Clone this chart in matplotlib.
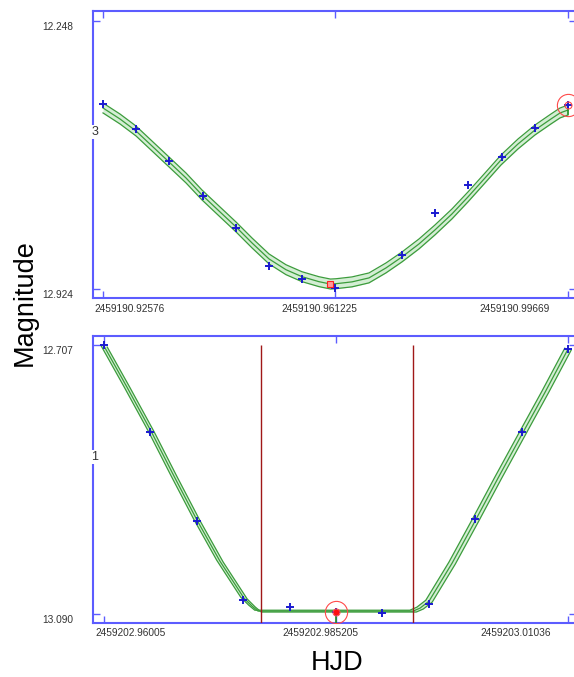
import numpy as np
import matplotlib
matplotlib.use("Agg")
import matplotlib.pyplot as plt
from matplotlib.transforms import ScaledTranslation

plt.rcParams['font.family'] = ['Liberation Sans', 'DejaVu Sans']

# ---------------- data: upper panel ----------------
top_hjd = [2459190.92576, 2459190.93083, 2459190.93589, 2459190.94096, 2459190.94603,
           2459190.95109, 2459190.95616, 2459190.96122, 2459190.97136, 2459190.97642,
           2459190.98149, 2459190.98656, 2459190.99162, 2459190.99669]
top_mag = [12.4583, 12.5212, 12.6018, 12.6899, 12.7700, 12.8662, 12.8989, 12.9216,
           12.8384, 12.7327, 12.6622, 12.5917, 12.5187, 12.4608]

top_model_hjd = [2459190.92576, 2459190.92835, 2459190.93079, 2459190.93323, 2459190.93583,
                 2459190.93842, 2459190.94086, 2459190.94345, 2459190.94605, 2459190.94849,
                 2459190.95108, 2459190.95367, 2459190.95611, 2459190.95871, 2459190.96046,
                 2459190.96130, 2459190.96374, 2459190.96633, 2459190.96893, 2459190.97137,
                 2459190.97396, 2459190.97640, 2459190.97899, 2459190.98143, 2459190.98403,
                 2459190.98647, 2459190.98906, 2459190.99165, 2459190.99409, 2459190.99547,
                 2459190.99669]
top_model_mag = [12.4683, 12.4960, 12.5262, 12.5640, 12.6043, 12.6446, 12.6874, 12.7277,
                 12.7680, 12.8083, 12.8485, 12.8757, 12.8933, 12.9059, 12.9118, 12.9110,
                 12.9064, 12.8964, 12.8712, 12.8435, 12.8108, 12.7755, 12.7352, 12.6924,
                 12.6446, 12.5993, 12.5590, 12.5238, 12.4960, 12.4809, 12.4734]
top_model_err = 0.0125
top_circled = 13

top_xticks = [2459190.92576, 2459190.961225, 2459190.99669]
top_xticklabels = ['2459190.92576', '2459190.961225', '2459190.99669']
top_yticks = [12.248, 12.924]
top_yticklabels = ['12.248', '12.924']
top_ylim = (12.947, 12.224)
top_xlim = (2459190.924235, 2459190.99791)
top_mid_label = '3'

# ---------------- data: lower panel ----------------
bot_hjd = [2459202.96005, 2459202.96508, 2459202.97011, 2459202.97514, 2459202.98017,
           2459202.98521, 2459202.99024, 2459202.99527, 2459203.00030, 2459203.00533,
           2459203.01036]
bot_mag = [12.7070, 12.8309, 12.9576, 13.0701, 13.0801, 13.0872, 13.0886, 13.0758,
           12.9548, 12.8309, 12.7127]

bot_model_hjd = [2459202.96005, 2459202.96254, 2459202.96515, 2459202.96764, 2459202.97013,
                 2459202.97262, 2459202.97523, 2459202.97610, 2459202.97675, 2459202.99356,
                 2459202.99432, 2459202.99529, 2459202.99779, 2459203.00028, 2459203.00277,
                 2459203.00538, 2459203.00788, 2459203.01036]
bot_model_mag = [12.7084, 12.7668, 12.8295, 12.8936, 12.9562, 13.0146, 13.0673, 13.0787,
                 13.0858, 13.0858, 13.0815, 13.0716, 13.0175, 12.9576, 12.8964, 12.8337,
                 12.7739, 12.7127]
bot_model_dx = 0.00035
bot_model_dy = 0.0013
bot_circled = 5
eclipse_bounds = [2459202.977073, 2459202.993553]

bot_xticks = [2459202.96005, 2459202.985205, 2459203.01036]
bot_xticklabels = ['2459202.96005', '2459202.985205', '2459203.01036']
bot_yticks = [12.707, 13.090]
bot_yticklabels = ['12.707', '13.090']
bot_ylim = (13.102, 12.694)
bot_xlim = (2459202.958857, 2459203.011227)
bot_mid_label = '1'

# ---------------- styling ----------------
SPINE = '#5c5cff'
PT_COL = '#1a1ad0'
GREEN = '#3c9c3c'
BAND = '#d4eed4'
RED = '#ff4a4a'
DARKRED = '#a01818'

fig = plt.figure(figsize=(5.74, 6.77), dpi=100)
W, H = 574.0, 677.0
ax1 = fig.add_axes([93 / W, 1 - 298 / H, (576 - 93) / W, 287 / H])
ax2 = fig.add_axes([93 / W, 1 - 622.5 / H, (576 - 93) / W, 286.5 / H])


def style_axes(ax, xticks, xlabels, yticks, ylabels, xlim, ylim, mid_label, xoffsets):
    ax.set_xlim(*xlim)
    ax.set_ylim(*ylim)
    for s in ax.spines.values():
        s.set_color(SPINE)
        s.set_linewidth(1.5)
    ax.set_xticks(xticks)
    ax.set_xticklabels(xlabels)
    ax.set_yticks(yticks)
    ax.set_yticklabels(ylabels)
    ax.tick_params(axis='both', which='both', direction='in', length=5, width=1,
                   color=SPINE, labelsize=7.3, labelcolor='#333333',
                   top=True, right=True)
    ax.tick_params(axis='x', pad=4)
    ax.tick_params(axis='y', pad=14)
    has = ['left', 'center', 'right']
    for lab, ha, dx in zip(ax.get_xticklabels(), has, xoffsets):
        lab.set_ha(ha)
        lab.set_transform(lab.get_transform() + ScaledTranslation(dx / 100.0, 0, fig.dpi_scale_trans))
    for lab in ax.get_yticklabels():
        lab.set_transform(lab.get_transform() + ScaledTranslation(0, -5 / 100.0, fig.dpi_scale_trans))
    ax.text(0.0, 0.578, mid_label, transform=ax.transAxes + ScaledTranslation(2 / 100.0, 0, fig.dpi_scale_trans),
            ha='center', va='center', fontsize=9, color='#333333',
            bbox=dict(facecolor='white', edgecolor='none', pad=1.0), zorder=5, clip_on=False)


# ---- upper panel ----
tm_x = np.array(top_model_hjd)
tm_y = np.array(top_model_mag)
ax1.fill_between(tm_x, tm_y - top_model_err, tm_y + top_model_err, color=BAND, lw=0, zorder=1)
for off in (-top_model_err, 0.0, top_model_err):
    ax1.plot(tm_x, tm_y + off, color=GREEN, lw=0.9, zorder=2)
ax1.plot(top_hjd, top_mag, '+', color=PT_COL, ms=6, mew=1.4, zorder=4)
imin = int(np.argmax(tm_y))
ax1.plot(tm_x[imin], tm_y[imin], 's', ms=4.5, mfc='#ff9a9a', mec='#ff2020', mew=0.8, zorder=5)
cx, cy = top_hjd[top_circled], top_mag[top_circled]
ax1.plot([cx, cx], [cy, cy + 0.022], color='#1f8f1f', lw=1.2, zorder=3)
ax1.plot(cx, cy, 'o', mfc='none', mec=RED, ms=16, mew=0.8, zorder=6, clip_on=False)
ax1.plot(cx, cy, 'o', mfc='none', mec=RED, ms=5, mew=0.8, zorder=6, clip_on=False)
style_axes(ax1, top_xticks, top_xticklabels, top_yticks, top_yticklabels,
           top_xlim, top_ylim, top_mid_label, [-9, -16, -18])

# ---- lower panel ----
bm_x = np.array(bot_model_hjd)
bm_y = np.array(bot_model_mag)
ux, uy = bm_x - bot_model_dx, bm_y - bot_model_dy
lx, ly = bm_x + bot_model_dx, bm_y + bot_model_dy
ax2.fill(np.concatenate([ux, lx[::-1]]), np.concatenate([uy, ly[::-1]]), color=BAND, lw=0, zorder=1)
for xx, yy in ((ux, uy), (bm_x, bm_y), (lx, ly)):
    ax2.plot(xx, yy, color=GREEN, lw=0.9, zorder=2)
ax2.vlines(eclipse_bounds, bot_yticks[0], bot_ylim[0], color=DARKRED, lw=1.0, zorder=3)
ax2.plot(bot_hjd, bot_mag, '+', color=PT_COL, ms=6, mew=1.4, zorder=4)
cx, cy = bot_hjd[bot_circled], bot_mag[bot_circled]
ax2.plot([cx, cx], [cy, bot_ylim[0]], color='#1f8f1f', lw=1.2, zorder=3)
ax2.plot(cx, cy, 's', ms=3, color='#ff1010', zorder=6)
ax2.plot(cx, cy, 'o', mfc='none', mec=RED, ms=16, mew=0.8, zorder=6)
ax2.plot(cx, cy, 'o', mfc='none', mec=RED, ms=5, mew=0.8, zorder=6)
style_axes(ax2, bot_xticks, bot_xticklabels, bot_yticks, bot_yticklabels,
           bot_xlim, bot_ylim, bot_mid_label, [-9, -16, -17])

fig.text(25 / W, 1 - 303 / H, 'Magnitude', rotation=90, ha='center', va='center',
         fontsize=19.5, color='black')
fig.text(337 / W, 1 - 663 / H, 'HJD', ha='center', va='center', fontsize=19.5, color='black')

fig.savefig('out.png', dpi=100, facecolor='white')
